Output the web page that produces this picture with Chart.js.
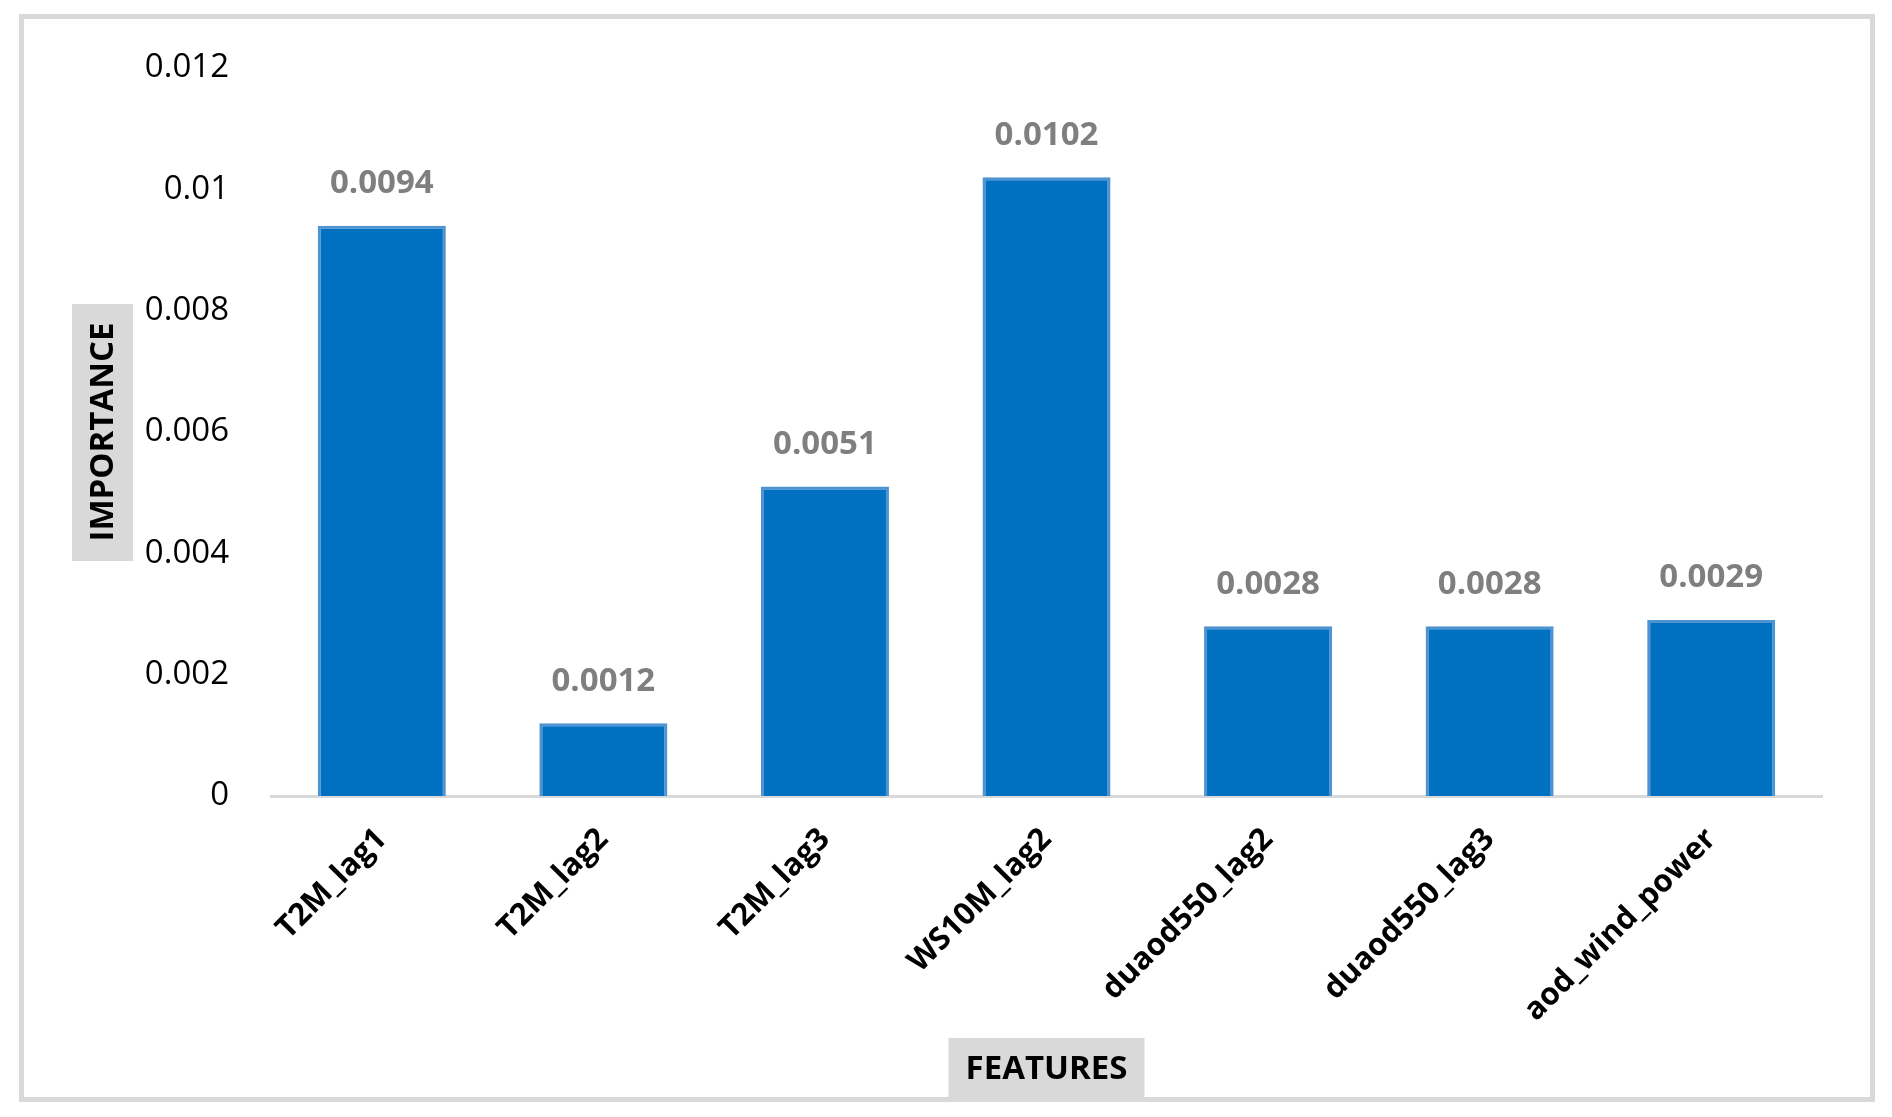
<!DOCTYPE html>
<html>
<head>
<meta charset="utf-8">
<title>Feature importance</title>
<script src="https://cdn.jsdelivr.net/npm/chart.js@4.4.1/dist/chart.umd.min.js"></script>
<style>
    html, body { margin: 0; padding: 0; background: #ffffff; }
    #chart-wrap { position: relative; width: 1892px; height: 1117px; }
</style>
</head>
<body>
<div id="chart-wrap"><canvas id="importanceChart"></canvas></div>
<script>
// ==========================================================================
// DATA
// ==========================================================================
const featureNames = ['T2M_lag1', 'T2M_lag2', 'T2M_lag3', 'WS10M_lag2', 'duaod550_lag2', 'duaod550_lag3', 'aod_wind_power'];
const importanceValues = [0.0094, 0.0012, 0.0051, 0.0102, 0.0028, 0.0028, 0.0029];
const importanceLabels = ['0.0094', '0.0012', '0.0051', '0.0102', '0.0028', '0.0028', '0.0029'];
const yTickValues = [0, 0.002, 0.004, 0.006, 0.008, 0.01, 0.012];
const yTickLabels = ['0', '0.002', '0.004', '0.006', '0.008', '0.01', '0.012'];

const FONT = '"Open Sans", "Noto Sans", sans-serif';
const FRAME_GRAY = '#d9d9d9';

// ==========================================================================
// PLUGINS: outer frame, value labels, boxed axis titles
// ==========================================================================
const framePlugin = {
    id: 'frame',
    beforeDraw(chart) {
        const ctx = chart.ctx;
        ctx.save();
        ctx.fillStyle = '#ffffff';
        ctx.fillRect(0, 0, chart.width, chart.height);
        ctx.strokeStyle = FRAME_GRAY;
        ctx.lineWidth = 5;
        ctx.strokeRect(21.5, 16.5, chart.width - 41, chart.height - 34);
        ctx.restore();
    }
};

const valueLabelPlugin = {
    id: 'valueLabels',
    afterDatasetsDraw(chart) {
        const ctx = chart.ctx;
        const meta = chart.getDatasetMeta(0);
        ctx.save();
        ctx.font = 'bold 33px ' + FONT;
        ctx.fillStyle = '#7f7f7f';
        ctx.textAlign = 'center';
        ctx.textBaseline = 'middle';
        meta.data.forEach((bar, i) => {
            ctx.fillText(importanceLabels[i], bar.x, bar.y - 42);
        });
        ctx.restore();
    }
};

const axisTitlePlugin = {
    id: 'axisTitles',
    afterDraw(chart) {
        const ctx = chart.ctx;
        const area = chart.chartArea;
        ctx.save();
        ctx.font = 'bold 33px ' + FONT;
        ctx.textAlign = 'center';
        ctx.textBaseline = 'middle';

        // y title, rotated in a grey box
        const yMid = (area.top + area.bottom) / 2;
        ctx.fillStyle = FRAME_GRAY;
        ctx.fillRect(72, yMid - 128, 61, 257);
        ctx.fillStyle = '#000000';
        ctx.translate(104, yMid);
        ctx.rotate(-Math.PI / 2);
        ctx.fillText('IMPORTANCE', 0, 0);
        ctx.setTransform(1, 0, 0, 1, 0, 0);

        // x title, grey box sitting on the frame bottom
        const xMid = (area.left + area.right) / 2;
        ctx.fillStyle = FRAME_GRAY;
        ctx.fillRect(xMid - 98, 1038, 196, 62);
        ctx.fillStyle = '#000000';
        ctx.fillText('FEATURES', xMid, 1070);
        ctx.restore();
    }
};

// ==========================================================================
// CHART
// ==========================================================================
const ctxImportance = document.getElementById('importanceChart').getContext('2d');
new Chart(ctxImportance, {
    type: 'bar',
    data: {
        labels: featureNames,
        datasets: [{
            data: importanceValues,
            backgroundColor: '#0070c0',
            borderColor: '#4f93d2',
            borderWidth: 3,
            barPercentage: 0.578,
            categoryPercentage: 1.0
        }]
    },
    options: {
        responsive: true,
        maintainAspectRatio: false,
        animation: false,
        layout: { padding: { top: 68, right: 70, bottom: 0, left: 0 } },
        plugins: {
            legend: { display: false },
            tooltip: { enabled: false }
        },
        scales: {
            x: {
                grid: { display: false, drawTicks: false },
                border: { display: true, color: FRAME_GRAY, width: 3 },
                ticks: {
                    autoSkip: false,
                    minRotation: 45,
                    maxRotation: 45,
                    padding: 25,
                    color: '#000000',
                    font: { family: FONT, size: 31, weight: 'bold' }
                },
                afterFit(scale) { scale.height = 321; }
            },
            y: {
                min: 0,
                max: 0.012,
                grid: { display: false, drawTicks: false },
                border: { display: false },
                afterBuildTicks(scale) {
                    scale.ticks = yTickValues.map(v => ({ value: v }));
                },
                ticks: {
                    padding: 42,
                    color: '#000000',
                    font: { family: FONT, size: 33 },
                    callback: (value, index) => yTickLabels[index]
                },
                afterFit(scale) { scale.width = 271; }
            }
        }
    },
    plugins: [framePlugin, valueLabelPlugin, axisTitlePlugin]
});
</script>
</body>
</html>
